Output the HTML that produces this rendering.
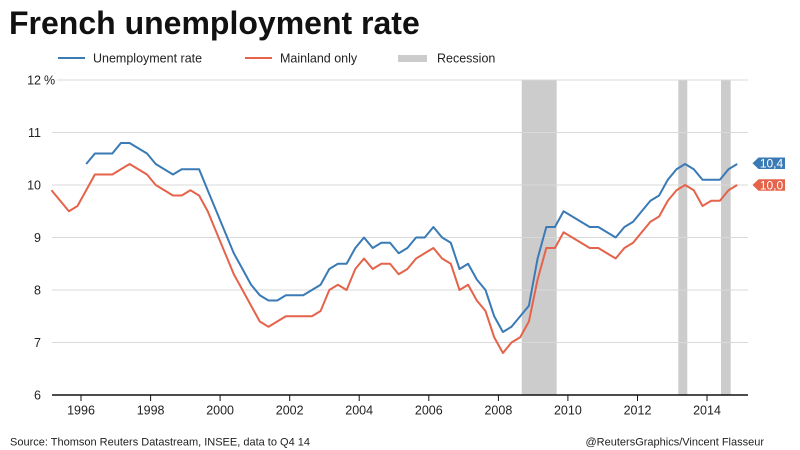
<!DOCTYPE html>
<html>
<head>
<meta charset="utf-8">
<style>
html,body{margin:0;padding:0;background:#fff;}
svg{display:block;}
text{font-family:"Liberation Sans",Arial,sans-serif;}
</style>
</head>
<body>
<svg width="800" height="450" viewBox="0 0 800 450" xmlns="http://www.w3.org/2000/svg">
<rect x="0" y="0" width="800" height="450" fill="#fff"/>
<!-- Title -->
<text x="9" y="34" font-size="32" font-weight="bold" fill="#111">French unemployment rate</text>
<!-- Legend -->
<line x1="58" y1="58" x2="85" y2="58" stroke="#3a7ab5" stroke-width="2"/>
<text x="93" y="62.5" font-size="12.5" fill="#222">Unemployment rate</text>
<line x1="245" y1="58" x2="272" y2="58" stroke="#e5634a" stroke-width="2"/>
<text x="280" y="62.5" font-size="12.5" fill="#222">Mainland only</text>
<rect x="398" y="55" width="29" height="7" fill="#cccccc"/>
<text x="437" y="62.5" font-size="12.5" fill="#222">Recession</text>

<!-- Recession bands -->
<rect x="521.7" y="80" width="35" height="315" fill="#cccccc"/>
<rect x="678.3" y="80" width="9" height="315" fill="#cccccc"/>
<rect x="721" y="80" width="9.7" height="315" fill="#cccccc"/>

<!-- Gridlines -->
<g stroke="#d9d9d9" stroke-width="1">
<line x1="57" y1="80" x2="748" y2="80"/>
<line x1="52" y1="132.5" x2="748" y2="132.5"/>
<line x1="52" y1="185" x2="748" y2="185"/>
<line x1="52" y1="237.5" x2="748" y2="237.5"/>
<line x1="52" y1="290" x2="748" y2="290"/>
<line x1="52" y1="342.5" x2="748" y2="342.5"/>
</g>

<!-- Y labels -->
<g font-size="12.5" fill="#222" text-anchor="end">
<text x="41" y="84.5">12</text>
<text x="41" y="137">11</text>
<text x="41" y="189.5">10</text>
<text x="41" y="242">9</text>
<text x="41" y="294.5">8</text>
<text x="41" y="347">7</text>
<text x="41" y="399.5">6</text>
</g>
<text x="44" y="84.5" font-size="12.5" fill="#222">%</text>

<!-- Series: mainland (red) -->
<polyline fill="none" stroke="#e5634a" stroke-width="2" stroke-linejoin="round"
points="51.5,190.25 60.2,200.75 68.9,211.25 77.5,206 86.2,190.25 94.9,174.5 103.6,174.5 112.3,174.5 120.9,169.25 129.6,164 138.3,169.25 147,174.5 155.7,185 164.3,190.25 173,195.5 181.7,195.5 190.4,190.25 199.1,195.5 207.7,211.25 216.4,232.25 225.1,253.25 233.8,274.25 242.5,290 251.1,305.75 259.8,321.5 268.5,326.75 277.2,321.5 285.9,316.25 294.5,316.25 303.2,316.25 311.9,316.25 320.6,311 329.3,290 337.9,284.75 346.6,290 355.3,269 364,258.5 372.7,269 381.3,263.75 390,263.75 398.7,274.25 407.4,269 416.1,258.5 424.7,253.25 433.4,248 442.1,258.5 450.8,263.75 459.5,290 468.1,284.75 476.8,300.5 485.5,311 494.2,337.25 502.9,353 511.5,342.5 520.2,337.25 528.9,321.5 537.6,279.5 546.3,248 554.9,248 563.6,232.25 572.3,237.5 581,242.75 589.7,248 598.3,248 607,253.25 615.7,258.5 624.4,248 633.1,242.75 641.7,232.25 650.4,221.75 659.1,216.5 667.8,200.75 676.5,190.25 685.1,185 693.8,190.25 702.5,206 711.2,200.75 719.9,200.75 728.5,190.25 737.2,185"/>

<!-- Series: unemployment (blue) -->
<polyline fill="none" stroke="#3a7ab5" stroke-width="2" stroke-linejoin="round"
points="86.2,164 94.9,153.5 103.6,153.5 112.3,153.5 120.9,143 129.6,143 138.3,148.25 147,153.5 155.7,164 164.3,169.25 173,174.5 181.7,169.25 190.4,169.25 199.1,169.25 207.7,190.25 216.4,211.25 225.1,232.25 233.8,253.25 242.5,269 251.1,284.75 259.8,295.25 268.5,300.5 277.2,300.5 285.9,295.25 294.5,295.25 303.2,295.25 311.9,290 320.6,284.75 329.3,269 337.9,263.75 346.6,263.75 355.3,248 364,237.5 372.7,248 381.3,242.75 390,242.75 398.7,253.25 407.4,248 416.1,237.5 424.7,237.5 433.4,227 442.1,237.5 450.8,242.75 459.5,269 468.1,263.75 476.8,279.5 485.5,290 494.2,316.25 502.9,332 511.5,326.75 520.2,316.25 528.9,305.75 537.6,258.5 546.3,227 554.9,227 563.6,211.25 572.3,216.5 581,221.75 589.7,227 598.3,227 607,232.25 615.7,237.5 624.4,227 633.1,221.75 641.7,211.25 650.4,200.75 659.1,195.5 667.8,179.75 676.5,169.25 685.1,164 693.8,169.25 702.5,179.75 711.2,179.75 719.9,179.75 728.5,169.25 737.2,164"/>

<!-- X axis -->
<line x1="52" y1="395" x2="748" y2="395" stroke="#111" stroke-width="1.5"/>
<g stroke="#111" stroke-width="1">
<line x1="81" y1="395" x2="81" y2="401"/>
<line x1="150.6" y1="395" x2="150.6" y2="401"/>
<line x1="220.1" y1="395" x2="220.1" y2="401"/>
<line x1="289.7" y1="395" x2="289.7" y2="401"/>
<line x1="359.2" y1="395" x2="359.2" y2="401"/>
<line x1="428.8" y1="395" x2="428.8" y2="401"/>
<line x1="498.4" y1="395" x2="498.4" y2="401"/>
<line x1="567.9" y1="395" x2="567.9" y2="401"/>
<line x1="637.5" y1="395" x2="637.5" y2="401"/>
<line x1="707" y1="395" x2="707" y2="401"/>
</g>
<g font-size="12.5" fill="#222" text-anchor="middle">
<text x="81" y="414.5">1996</text>
<text x="150.6" y="414.5">1998</text>
<text x="220.1" y="414.5">2000</text>
<text x="289.7" y="414.5">2002</text>
<text x="359.2" y="414.5">2004</text>
<text x="428.8" y="414.5">2006</text>
<text x="498.4" y="414.5">2008</text>
<text x="567.9" y="414.5">2010</text>
<text x="637.5" y="414.5">2012</text>
<text x="707" y="414.5">2014</text>
</g>

<!-- End labels -->
<polygon points="752.5,163.2 758.5,157.5 785,157.5 785,169 758.5,169" fill="#3a7ab5"/>
<text x="771.5" y="167.5" font-size="12" fill="#fff" text-anchor="middle">10,4</text>
<polygon points="752.5,185 758.5,179.3 785,179.3 785,190.8 758.5,190.8" fill="#e5634a"/>
<text x="771.5" y="189.3" font-size="12" fill="#fff" text-anchor="middle">10,0</text>

<!-- Footer -->
<text x="10" y="445.5" font-size="11" fill="#222">Source: Thomson Reuters Datastream, INSEE, data to Q4 14</text>
<text x="764" y="445.5" font-size="11" fill="#222" text-anchor="end">@ReutersGraphics/Vincent Flasseur</text>
</svg>
</body>
</html>
